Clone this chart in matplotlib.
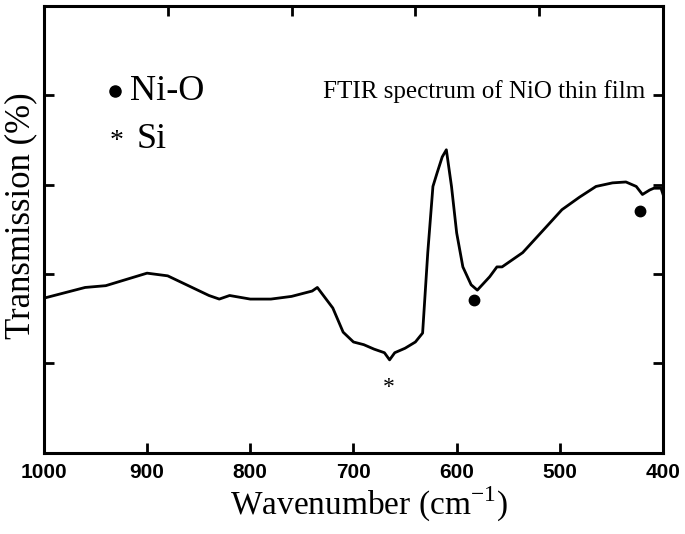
import numpy as np
import matplotlib
matplotlib.use("Agg")
import matplotlib.pyplot as plt

plt.rcParams["mathtext.fontset"] = "custom"
plt.rcParams["mathtext.rm"] = "Liberation Serif"

# FTIR spectrum (wavenumber in cm^-1, transmission in arbitrary units)
wavenumber = [1000, 980, 960, 940, 920, 900, 880, 860, 840, 830, 820, 800, 780, 760,
              740, 735, 720, 710, 700, 690, 680, 670, 665, 660, 650, 640, 633, 628,
              623, 619, 614, 610, 605, 600, 594, 586, 580, 568, 561, 556, 546, 536,
              513, 498, 481, 465, 449, 436, 426, 420, 413, 409, 402, 400]
transmission = [1.73, 1.79, 1.85, 1.87, 1.94, 2.01, 1.98, 1.87, 1.76, 1.72, 1.76, 1.72,
                1.72, 1.75, 1.81, 1.85, 1.62, 1.35, 1.24, 1.21, 1.16, 1.12, 1.04, 1.12,
                1.17, 1.24, 1.34, 2.24, 2.98, 3.13, 3.31, 3.39, 2.98, 2.46, 2.08, 1.88,
                1.82, 1.97, 2.08, 2.08, 2.16, 2.24, 2.53, 2.72, 2.86, 2.98, 3.02, 3.03,
                2.98, 2.89, 2.94, 2.96, 2.96, 2.89]

# band markers
nio_x = [583, 422]
nio_y = [1.71, 2.70]
si_x = 666
si_y = 0.82

xticks = [1000, 900, 800, 700, 600, 500, 400]
top_ticks = [880, 760, 640, 520]
yticks = [1, 2, 3, 4]

serif = ["Liberation Serif", "DejaVu Serif"]

fig = plt.figure(figsize=(6.85, 5.34), dpi=100)
ax = fig.add_axes([0.064, 0.152, 0.904, 0.837])

ax.plot(wavenumber, transmission, color="black", lw=2.0)
ax.plot(nio_x, nio_y, "o", color="black", ms=7.5)
ax.annotate("*", (si_x, si_y), xytext=(0, -9.5), textcoords="offset points",
            ha="center", va="baseline", fontfamily=serif, fontsize=17)

ax.set_xlim(1000, 400)
ax.set_ylim(0, 5)
ax.set_xticks(xticks)
ax.set_xticklabels([str(t) for t in xticks], fontfamily="Liberation Sans",
                   fontweight="bold", fontsize=15)
ax.set_yticks(yticks)
ax.set_yticklabels([])
ax.tick_params(direction="in", length=7, width=2, right=True, pad=7)

top = ax.secondary_xaxis("top")
top.set_xticks(top_ticks)
top.set_xticklabels([])
top.tick_params(direction="in", length=7, width=2)
top.spines["top"].set_visible(False)

for s in ax.spines.values():
    s.set_linewidth(2.2)

ax.set_xlabel(r"Wavenumber (cm$^{\mathregular{-1}}$)", fontfamily=serif, fontsize=24,
              labelpad=2)
ax.xaxis.label.set_x(0.525)
ax.set_ylabel("Transmission (%)", fontfamily=serif, fontsize=25, va="center")
ax.yaxis.set_label_coords(-0.037, 0.53)

# legend drawn as text like the original
ax.plot([0.115], [0.81], "o", color="black", ms=8, transform=ax.transAxes)
ax.text(0.139, 0.79, "Ni-O", transform=ax.transAxes, fontfamily=serif,
        fontsize=26, va="baseline")
ax.text(0.118, 0.682, "*", transform=ax.transAxes, fontfamily=serif,
        fontsize=20, va="baseline", ha="center")
ax.text(0.150, 0.682, "Si", transform=ax.transAxes, fontfamily=serif,
        fontsize=26, va="baseline")
ax.text(0.971, 0.794, "FTIR spectrum of NiO thin film", transform=ax.transAxes,
        fontfamily=serif, fontsize=18, va="baseline", ha="right")

fig.savefig("out.png", dpi=100)
